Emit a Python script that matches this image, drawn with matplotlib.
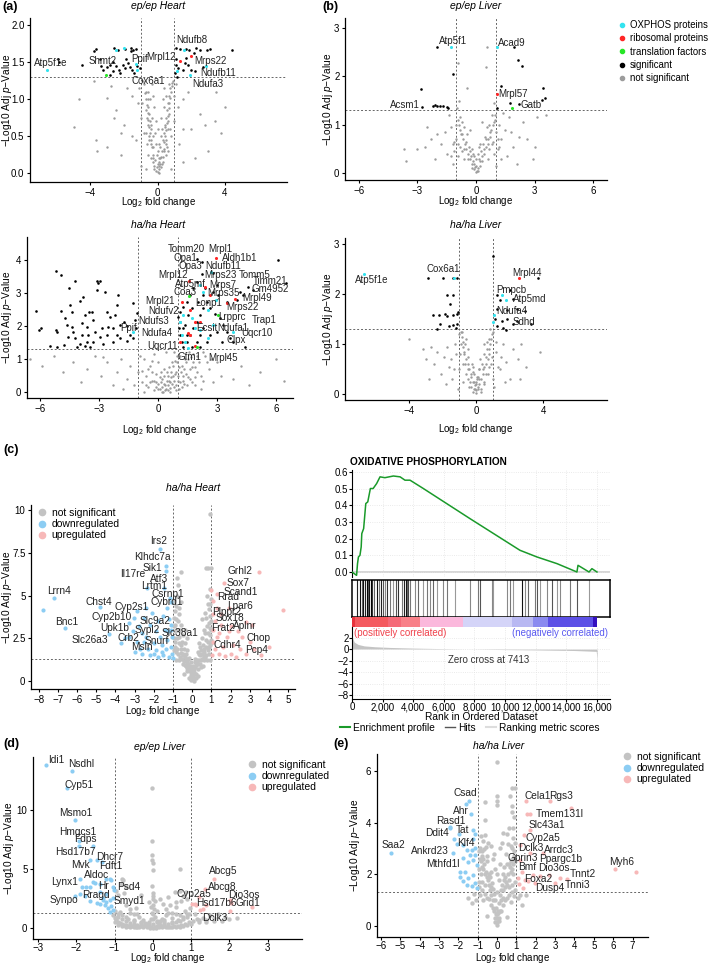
import numpy as np
import matplotlib
matplotlib.use("Agg")
import matplotlib.pyplot as plt
from matplotlib.lines import Line2D

plt.rcParams['font.family'] = ['Liberation Sans', 'DejaVu Sans']
plt.rcParams['mathtext.fontset'] = 'custom'
plt.rcParams['mathtext.rm'] = 'Liberation Sans'
plt.rcParams['mathtext.it'] = 'Liberation Sans:italic'

W, H = 709, 964

# ---------------- data: (a) ep/ep Heart ----------------
a1_gray = [(0, .02), (.1, .05), (-.1, .03), (.2, .08), (-.2, .1), (.05, .15), (.15, .2), (-.05, .25), (.25, .3),
           (-.25, .35), (.3, .45), (-.3, .5), (.4, .55), (-.4, .6), (.45, .65), (-.45, .7), (.5, .75), (-.5, .8),
           (.55, .85), (-.55, .9), (.6, .95), (-.6, 1.0), (.7, 1.05), (-.7, 1.1), (.75, 1.15), (-.8, 1.2), (.85, 1.22),
           (-.9, 1.25), (.9, 1.25), (.1, .1), (.3, .15), (-.3, .2), (.35, .3), (-.4, .4), (.6, .6), (-.6, .65), (.7, .8),
           (-.7, .85), (.2, .5), (-.15, .55), (.5, .4), (-.5, .45), (.8, .5), (-.8, .55), (1.0, .7), (-1.0, .75),
           (1.2, .9), (-1.2, .95), (1.5, 1.0), (-1.5, 1.05), (1.8, 1.1), (-1.8, 1.15), (1.3, .4), (-1.3, .45), (2.0, .6),
           (-2.0, .65), (2.5, .8), (-2.5, .85), (3.0, .3), (-3.0, .35), (3.8, .55), (-3.7, .45), (-5.0, .63), (-3.0, 1.02),
           (-2.6, .75), (2.2, .2), (-2.2, .25), (1.5, .15), (-1.0, .1), (.8, .05), (-.7, .05), (4.0, .9), (3.4, .7),
           (2.8, 1.2), (-3.6, .3), (-3.8, 1.25), (-4.7, 1.0), (.4, 1.15), (-.35, 1.2), (.95, 1.05), (-.95, .95),
           (1.1, 1.2), (-1.1, 1.15), (.6, .3), (-.6, .25), (1.5, .6), (-1.5, .5), (2.8, .65), (-2.2, .55), (3.5, 1.1),
           (-2.8, 1.18), (.2, .75), (-.2, .9), (.3, 1.0), (-.3, 1.05), (0, .3), (0, .6), (.1, .4), (-.1, .7)]
a1_gray_core = [(-.35, .35), (-.4, .45), (-.45, .55), (-.5, .62), (-.55, .72), (-.6, .82), (-.65, .92), (-.7, 1.0),
                (-.75, 1.08), (-.3, .25), (-.25, .15), (-.2, .05), (.25, .12), (.3, .22), (.35, .32), (.4, .42),
                (.45, .5), (.5, .58), (.55, .68), (.6, .78), (.65, .88), (.7, .95), (.75, 1.02), (.8, 1.1), (.85, 1.18),
                (.1, 0), (-.05, .08), (.05, .2), (.15, .12), (-.15, .18), (0, .12), (.2, .22), (-.42, .65), (-.52, .5),
                (.42, .62), (.52, .45), (.62, .7), (-.62, .75), (.35, .9), (-.45, 1.0), (.5, 1.05), (-.55, 1.1),
                (.65, 1.2), (.25, .6), (-.35, .75), (.15, .35), (-.1, .4), (.48, .25), (-.38, .2), (.72, .6),
                (-.72, .55), (.55, .35), (-.65, .4)]
a1_sig = [(-3.66, 1.68), (-3.80, 1.66), (-2.57, 1.70), (-2.37, 1.67), (-1.97, 1.68), (-1.57, 1.70), (-1.47, 1.67),
          (-1.31, 1.68), (-1.57, 1.65), (-4.50, 1.47), (-3.46, 1.54), (-3.36, 1.45), (-3.26, 1.39), (-3.02, 1.43),
          (-2.83, 1.47), (-2.63, 1.50), (-2.47, 1.45), (-2.31, 1.40), (-2.23, 1.35), (-2.07, 1.47), (-1.95, 1.42),
          (-1.87, 1.55), (-1.75, 1.49), (-1.67, 1.44), (-1.55, 1.39), (-1.43, 1.35), (-1.23, 1.45), (-1.03, 1.42),
          (-2.83, 1.33), (-2.67, 1.38), (-5.95, 1.55), (-5.89, 1.51), (1.11, 1.70), (1.35, 1.68), (1.67, 1.68),
          (1.87, 1.67), (2.31, 1.70), (2.51, 1.67), (2.95, 1.67), (3.14, 1.68), (4.40, 1.67), (2.15, 1.63),
          (1.71, 1.56), (1.63, 1.49), (1.81, 1.46), (2.01, 1.40), (2.21, 1.38), (1.11, 1.47), (1.21, 1.42),
          (1.03, 1.35), (1.15, 1.30), (1.51, 1.39), (2.71, 1.43), (1.07, 1.55)]
a1_ox = [(-6.59, 1.40), (-1.31, 1.48), (-1.23, 1.39), (-2.03, 1.69), (-2.47, 1.67), (1.57, 1.67), (2.87, 1.45),
         (1.91, 1.33), (1.17, 1.38)]
a1_ribo = [(1.31, 1.52), (2.0, 1.58)]
a1_trans = [(-3.1, 1.33)]
a1_labels = [("Atp5f1e", -6.35, 1.49), ("Shmt2", -3.26, 1.52), ("Ppif", -1.07, 1.55), ("Cox6a1", -0.58, 1.25),
             ("Mrpl12", 0.22, 1.57), ("Ndufb8", 2.01, 1.80), ("Mrps22", 3.14, 1.52), ("Ndufb11", 3.6, 1.36),
             ("Ndufa3", 3.0, 1.21)]

# ---------------- data: (a) ha/ha Heart ----------------
a2_gray = [(-6.5, 1.0), (-5.9, .8), (-5.3, 1.1), (-4.8, .6), (-4.3, .9), (-3.9, .3), (-3.6, .7), (-3.2, 1.1), (-2.9, .5),
           (-2.6, .9), (-2.3, .2), (-2.1, .6), (-1.9, 1.0), (-1.6, .4), (-1.4, .8), (-1.2, .2), (-1.0, .6), (-.9, 1.1),
           (-.8, .3), (-.6, .5), (-.5, .15), (-.4, .8), (-.3, .35), (-.2, .05), (-.1, .55), (0, .25), (.1, .1), (.2, .4),
           (.3, .7), (.35, .2), (.5, .05), (.5, .5), (.6, .3), (.7, .9), (.8, .15), (.9, .6), (1.0, .35), (1.1, 1.1),
           (1.2, .8), (1.3, .25), (1.4, .55), (1.5, 1.0), (1.6, .4), (1.7, .75), (1.8, 1.15), (1.9, .2), (2.0, .6),
           (2.1, .9), (2.3, .35), (2.4, 1.1), (2.6, .7), (2.8, .3), (3.0, .9), (3.2, .5), (3.5, 1.1), (3.8, .4),
           (4.2, .8), (4.6, .2), (5.2, .6), (6.0, 1.0), (6.4, .35), (0, .9), (-.2, 1.15), (.4, 1.2), (.8, 1.2), (.2, 0),
           (.6, 0), (-.1, .3), (.15, .6), (.45, .35), (.75, .5), (1.05, .1), (1.25, .5), (1.45, .2), (-.7, 0), (.95, .9),
           (2.2, .1), (-1.8, .1), (2.7, 1.0), (-2.8, 1.05)]
a2_gray_core = [(.2, .15), (.3, .25), (.4, .1), (.5, .2), (.6, .12), (.7, .25), (.8, .35), (.9, .2), (1.0, .5), (1.1, .3),
                (1.2, .15), (1.3, .7), (1.4, .9), (1.5, .45), (1.6, .7), (1.7, .3), (1.8, .9), (2.0, 1.1), (1.9, .45),
                (.1, .45), (0, .1), (-.1, .15), (-.2, .35), (-.3, .6), (-.4, .3), (-.5, .7), (-.6, .2), (-.7, 1.0),
                (.3, .5), (.45, .6), (.55, .75), (.65, .6), (.75, .8), (.85, .95), (.95, 1.1), (1.15, .6), (1.35, 1.0),
                (1.55, 1.2), (1.25, .35), (1.05, .75), (.35, .05), (.65, .45), (.15, .3), (.25, 0), (.55, .35),
                (.85, .55), (1.65, 1.05), (2.2, .5), (2.5, .9), (-.3, .95), (.9, .05), (-.8, .65), (2.3, 1.2), (1.9, .75)]
a2_sig = [(-6.19, 2.45), (-6.02, 1.88), (-5.94, 1.93), (-5.18, 3.67), (-4.92, 3.55), (-4.92, 2.45), (-5.18, 1.88),
          (-5.11, 1.81), (-5.48, 1.40), (-4.64, 2.03), (-4.52, 3.16), (-4.47, 2.64), (-4.38, 2.43), (-4.21, 3.36),
          (-3.96, 2.76), (-3.79, 2.89), (-3.87, 2.08), (-3.71, 2.33), (-3.62, 1.98), (-3.50, 2.43), (-3.37, 2.43),
          (-3.28, 2.18), (-3.11, 3.36), (-3.03, 3.32), (-2.94, 3.36), (-3.08, 3.09), (-2.69, 3.04), (-2.61, 2.43),
          (-2.44, 2.28), (-2.01, 2.94), (-2.10, 2.64), (-2.18, 2.33), (-2.27, 1.93), (-1.93, 2.03), (-1.73, 2.13),
          (-1.59, 2.01), (-1.25, 2.69), (-1.08, 2.41), (-1.17, 2.18), (-1.12, 1.93), (-1.25, 1.63), (-1.59, 1.55),
          (-1.93, 1.63), (-2.27, 1.53), (-2.61, 1.73), (-2.94, 1.68), (-3.28, 1.53), (-3.62, 1.53), (-3.96, 1.47),
          (-4.21, 1.63), (-4.30, 1.83), (-4.55, 1.68), (-4.77, 1.42), (-4.13, 1.37), (-3.45, 1.37), (-2.78, 1.47),
          (-2.10, 1.73), (-1.42, 1.73), (-3.87, 1.73), (-3.54, 1.73), (-3.20, 1.83), (-2.86, 1.93), (-2.52, 1.98),
          (-4.38, 1.98), (-4.72, 2.23), (-5.14, 1.37), (-3.71, 1.40),
          (1.96, 4.03), (2.22, 3.95), (2.81, 3.62), (2.25, 3.57), (6.11, 4.0), (6.50, 3.32), (4.59, 3.19), (4.84, 3.09),
          (4.16, 3.02), (4.33, 2.94), (3.99, 2.79), (3.49, 2.74), (3.06, 2.94), (2.81, 3.04), (2.39, 3.14), (1.96, 3.34),
          (1.79, 3.14), (1.62, 2.94), (1.46, 2.74), (1.29, 2.59), (1.12, 2.43), (1.03, 2.28), (1.12, 2.13), (1.08, 1.93),
          (1.12, 1.73), (1.20, 1.53), (1.29, 1.37), (1.46, 1.53), (1.62, 1.73), (1.79, 1.93), (1.96, 2.13), (2.13, 2.33),
          (2.30, 2.54), (2.47, 2.74), (2.64, 2.54), (2.89, 2.38), (3.15, 2.23), (3.32, 2.03), (3.49, 1.83), (3.65, 1.63),
          (3.82, 1.53), (4.42, 1.37), (2.47, 1.53), (2.64, 1.73), (2.30, 1.93), (2.13, 1.73), (1.96, 1.53), (1.71, 1.37),
          (2.13, 1.37), (1.37, 2.03), (1.54, 2.33), (1.71, 2.54), (2.05, 2.74), (2.30, 2.94), (2.98, 3.24), (3.23, 1.53),
          (2.98, 1.83), (1.46, 1.73), (1.25, 1.93)]
a2_ox = [(2.67, 3.65), (2.27, 3.04), (2.13, 3.26), (2.94, 2.79), (2.55, 2.48), (1.25, 2.35), (1.71, 2.23), (1.12, 2.13),
         (2.81, 2.03), (2.13, 1.88), (1.20, 1.73), (1.54, 1.34), (-1.25, 1.83), (3.82, 1.83), (2.55, 1.63),
         (1.88, 1.93), (1.37, 1.53)]
a2_ribo = [(2.94, 4.07), (1.59, 3.36), (2.39, 3.19), (2.64, 2.94), (3.91, 2.82), (1.20, 2.74), (3.49, 2.69),
           (1.62, 2.48), (1.88, 2.13), (1.12, 1.53), (1.54, 1.78), (1.88, 1.40), (2.13, 2.13), (1.62, 1.73)]
a2_trans = [(1.59, 2.92), (3.06, 2.33), (1.96, 1.37)]
a2_labels = [("Tomm20", 1.46, 4.33), ("Mrpl1", 3.18, 4.33), ("Opa1", 1.37, 4.07), ("Aldh1b1", 4.16, 4.05),
             ("Opa3", 1.62, 3.81), ("Ndufb11", 3.28, 3.81), ("Mrpl12", 0.78, 3.55), ("Mrps23", 3.18, 3.55),
             ("Tomm5", 4.92, 3.55), ("Timm21", 5.69, 3.36), ("Atp5mf", 1.62, 3.29), ("Mrps7", 3.27, 3.24),
             ("Gm4952", 5.69, 3.11), ("Coa3", 1.37, 3.04), ("Mrps35", 3.32, 2.99), ("Mrpl49", 5.01, 2.84),
             ("Mrpl21", 0.10, 2.76), ("Lonp1", 2.56, 2.69), ("Mrps22", 4.30, 2.59), ("Ndufv2", 0.27, 2.45),
             ("Lrpprc", 3.74, 2.26), ("Trap1", 5.38, 2.18), ("Ndufs3", -0.24, 2.15), ("Ppif", -1.51, 1.95),
             ("Ndufa1", 3.82, 1.95), ("Ecsit", 2.47, 1.93), ("Uqcr10", 5.01, 1.80), ("Ndufa4", -0.07, 1.78),
             ("Clpx", 3.99, 1.58), ("Uqcr11", 0.24, 1.40), ("Gfm1", 1.59, 1.07), ("Mrpl45", 3.28, 1.02)]

# ---------------- data: (b) ep/ep Liver ----------------
b1_gray = [(.54, 2.61), (.51, 2.2), (-.9, 2.27), (-.48, 1.75), (-.85, 1.49), (-.95, 1.35), (.9, 1.45), (.8, 1.2),
           (-.8, 1.15), (.95, 1.1), (-1.0, 1.0), (1.2, 1.0), (-1.3, .95), (1.5, .9), (-1.6, .85), (1.8, .85), (-2.0, .8),
           (2.2, .75), (-2.3, .7), (2.6, .7), (-2.6, .55), (3.0, .55), (-3.0, .5), (3.1, 1.15), (-3.7, .5), (-3.6, .25),
           (3.6, 1.2), (2.9, .3), (-1.5, .4), (1.6, .35), (-.7, .8), (.7, .85), (-.6, .5), (.6, .6), (-.4, .3), (.4, .4),
           (-.2, .1), (.2, .15), (0, .02), (.1, .05), (-.1, .2), (.3, .25), (-.3, .45), (.5, .7), (-.5, .65), (.65, 1.0),
           (-.7, 1.05), (.85, .65), (-.9, .6), (1.1, .5), (-1.1, .45), (1.3, .7), (-1.2, .2), (1.0, .15), (-2.1, .3),
           (2.1, .2), (-1.8, .6), (1.9, .55), (-.15, .4), (.15, .55), (0, .3), (-2.5, .95), (2.4, 1.05), (-1.4, 1.2),
           (1.4, 1.25), (-.3, .9), (.3, 1.05), (1.7, 1.15)]
b1_gray_core = [(-.1, .08), (.1, .1), (0, .15), (-.2, .2), (.2, .25), (-.3, .3), (.3, .35), (-.4, .4), (.4, .5), (-.5, .5),
                (.5, .55), (-.55, .6), (.6, .7), (-.65, .7), (.7, .75), (-.75, .8), (.75, .9), (-.8, .9), (.85, 1.0),
                (-.85, 1.0), (.9, 1.05), (-.9, 1.1), (.95, 1.2), (.55, .95), (-.6, .95), (.45, .75), (-.45, .8),
                (.35, .6), (-.35, .55), (.25, .45), (-.25, .35), (.15, .3), (-.15, .25), (.05, .05), (-.05, .12),
                (1.0, .85), (-1.0, .7), (1.1, .7), (-1.1, .65), (1.2, .55), (-1.2, .6), (.65, .5), (-.7, .45), (.8, .6),
                (-.8, .55), (.2, .6), (-.2, .5), (.6, .3), (-.6, .3), (.9, .4), (-.9, .35), (1.3, .3), (-1.3, .35),
                (.1, .4), (-.1, .35)]
b1_sig = [(-1.97, 2.61), (-1.16, 2.05), (1.94, 2.61), (2.13, 2.33), (2.36, 2.22), (-2.79, 1.73), (1.28, 1.80),
          (3.44, 1.75), (3.54, 1.56), (3.35, 1.50), (1.73, 1.44), (2.21, 1.42), (1.05, 1.34), (-2.18, 1.39),
          (-2.09, 1.40), (-2.01, 1.39), (-1.84, 1.39), (-1.67, 1.39), (-1.50, 1.37), (-1.41, 1.34), (-2.77, 1.37)]
b1_ox = [(-1.28, 2.60), (1.09, 2.60)]
b1_ribo = [(1.05, 1.63)]
b1_trans = [(1.82, 1.34)]
b1_labels = [("Atp5f1", -1.16, 2.73), ("Acad9", 1.82, 2.69), ("Mrpl57", 1.90, 1.63), ("Gatb", 2.84, 1.41),
             ("Acsm1", -3.62, 1.41)]

# ---------------- data: (b) ha/ha Liver ----------------
b2_gray = [(-3.98, 1.11), (-3.15, .9), (-3.0, .7), (-2.7, .95), (-2.5, .6), (-2.3, .85), (-2.1, .4), (-1.9, .75),
           (-1.7, .95), (-1.6, .55), (-1.4, .3), (-1.2, .8), (-1.0, 1.2), (-1.0, .5), (-.9, 1.0), (-.8, .25), (-.7, .8),
           (-.6, 1.1), (-.5, .5), (-.4, .15), (-.3, .35), (-.2, .05), (-.1, .25), (0, .02), (.1, .1), (.2, .3), (.3, .05),
           (.4, .5), (.5, .2), (.6, .75), (.7, .4), (.8, 1.1), (.9, .6), (1.0, 1.25), (1.0, .3), (1.2, .85), (1.4, .5),
           (1.6, 1.0), (1.8, .65), (2.0, .3), (2.2, .9), (2.5, .7), (2.7, 1.0), (3.0, .55), (3.8, .85), (-.85, 1.25),
           (.85, 1.3), (-.65, .6), (.65, .9), (-.45, .9), (.45, 1.0), (-.25, .6), (.25, .7), (-.15, .45), (.15, .5),
           (0, .2), (-.05, .1), (.05, .35), (-1.1, .1), (1.1, .15), (-1.8, .2), (1.7, .25), (-2.8, .3), (2.6, .3)]
b2_gray_core = [(-.1, .1), (.1, .15), (0, .25), (-.2, .25), (.2, .2), (-.3, .4), (.3, .3), (-.4, .5), (.4, .4), (-.5, .6),
                (.5, .55), (-.6, .7), (.6, .6), (-.7, .85), (.7, .7), (-.75, .95), (.75, .8), (-.8, 1.05), (.8, .9),
                (-.85, 1.15), (.85, 1.0), (-.9, 1.25), (.9, 1.1), (.95, 1.2), (-.5, .3), (.5, .25), (-.3, .15), (.3, .1),
                (-.6, .4), (.6, .4), (-.8, .6), (.8, .55), (-.95, .8), (.95, .75), (-.2, .55), (.2, .5), (.1, .35),
                (-.1, .4), (-.65, 1.0), (.65, 1.05), (-.45, .75), (.45, .8), (-1.3, .5), (1.3, .55), (-1.5, .7),
                (1.5, .75), (-.35, .25), (.35, .6), (0, .08), (-.05, .18), (.05, .3), (-1.25, 1.0), (1.2, 1.05)]
b2_sig = [(-2.85, 2.33), (-1.95, 2.33), (-1.35, 2.33), (-1.11, 2.33), (3.68, 2.33), (1.03, 2.77), (-1.71, 1.98),
          (-1.39, 1.98), (-1.55, 1.81), (-2.59, 1.59), (-2.19, 1.59), (-1.85, 1.61), (-1.71, 1.57), (-1.35, 1.58),
          (-1.15, 1.61), (-1.05, 1.65), (-2.15, 1.41), (-2.35, 1.30), (-1.59, 1.37), (-1.35, 1.38), (-1.19, 1.33),
          (-1.11, 1.41), (1.25, 1.98), (2.03, 2.09), (1.43, 1.88), (2.23, 1.91), (1.27, 1.71), (1.83, 1.68),
          (2.43, 1.71), (2.89, 1.66), (1.13, 1.51), (1.53, 1.46), (1.83, 1.51), (2.19, 1.41), (2.43, 1.46),
          (3.26, 1.41), (1.23, 1.37), (1.63, 1.33), (1.77, 1.29)]
b2_ox = [(-6.69, 2.40), (-1.29, 2.33), (1.57, 1.98), (1.77, 1.88), (1.09, 1.59), (1.03, 1.45)]
b2_ribo = [(2.57, 2.33)]
b2_labels = [("Atp5f1e", -6.2, 2.28), ("Cox6a1", -1.95, 2.51), ("Mrpl44", 3.06, 2.43), ("Pmpcb", 2.13, 2.08),
             ("Atp5md", 3.22, 1.89), ("Ndufa4", 2.13, 1.67), ("Sdhd", 2.83, 1.45)]

# ---------------- data: (c) ha/ha Heart DE ----------------
c_gray = [(0, .1), (.05, .3), (-.05, .5), (.1, .7), (-.1, .9), (.15, 1.1), (-.2, 1.3), (.2, .4), (-.15, .2), (.3, 1.0),
          (-.3, 1.2), (.4, 1.5), (-.4, 1.4), (.5, 1.3), (-.5, 1.6), (.6, 1.7), (-.6, 1.9), (.7, 2.0), (-.7, 2.2),
          (.8, 2.3), (-.8, 2.5), (.9, 2.7), (-.9, 2.9), (.95, 3.0), (-.95, 3.2), (.85, 3.4), (-.85, 3.6), (.9, 3.8),
          (-.9, 4.1), (.8, 4.5), (-.7, 4.3), (.95, 4.8), (-.8, 5.0), (.9, 5.4), (-.6, 6.4), (.8, 6.6), (.95, 6.6),
          (.7, 6.6), (-.8, 6.0), (.9, 9.8), (.6, 3.0), (-.6, 3.3), (.5, 2.5), (-.5, 2.7), (.4, 2.0), (-.4, 2.2),
          (.3, 1.7), (-.3, 1.8), (.65, 4.0), (-.6, 4.6), (.75, 5.0), (-.75, 5.6), (.5, 3.6), (-.4, 3.0), (.2, .15),
          (-.25, .6), (.3, .3), (-.35, .9), (.45, .8), (-.5, 1.0), (.6, 1.2), (-.7, 1.25), (.75, 1.2), (-.85, 1.25),
          (.9, 1.25), (.1, 0), (-.05, .05), (.85, 2.0), (-.9, 2.3), (.95, 2.4), (-.95, 1.8), (.7, 1.5), (-.75, 1.6),
          (.55, .9), (-.45, .4), (.25, 1.2), (-.2, .8), (.35, 2.2), (-.3, 2.5)]
c_gray_core = [(0, .25), (.05, .4), (-.05, .35), (.1, .55), (-.1, .6), (.15, .8), (-.15, .75), (.2, .95), (-.2, 1.0),
               (.25, 1.15), (-.25, 1.1), (.35, 1.25), (-.35, 1.3), (.45, 1.2), (-.45, 1.15), (.55, 1.3), (-.55, 1.3),
               (.65, 1.4), (-.65, 1.4), (.1, .2), (-.1, .15), (0, .5), (0, .7), (.05, .9), (-.05, 1.1), (.15, 1.3),
               (-.15, 1.35), (.3, .7), (-.3, .75), (.4, 1.0), (-.4, .95), (.5, 1.55), (-.5, 1.5), (.6, 1.9), (-.6, 2.1),
               (.7, 2.4), (-.7, 2.6), (.8, 2.8), (-.8, 3.0), (.85, 1.6), (-.85, 1.7), (.9, 2.1), (-.9, 2.0), (.95, 3.5),
               (-.95, 3.7), (.75, 3.2), (-.75, 3.5), (.65, 2.8), (-.65, 3.0), (.55, 2.1), (-.55, 2.3), (.45, 1.8),
               (-.45, 1.9), (.8, 1.8), (-.8, 1.9), (.9, 3.1), (-.9, 3.3), (.7, 3.7), (-.7, 3.9), (.85, 4.2), (-.85, 4.4),
               (.92, 4.5), (-.95, 4.7), (.6, 1.45), (-.6, 1.65), (.35, 1.55), (-.35, 1.6), (.95, 2.2), (-.95, 2.5)]
c_down = [(-7.76, 4.15), (-7.21, 4.83), (-6.64, 3.12), (-4.82, 4.31), (-4.35, 2.73), (-3.71, 2.20), (-3.05, 3.66),
          (-1.70, 7.72), (-1.37, 6.74), (-1.37, 6.45), (-1.46, 5.42), (-2.36, 5.42), (-1.18, 4.83), (-2.1, 4.0),
          (-2.5, 3.7), (-2.8, 3.2), (-3.3, 2.6), (-3.1, 2.95), (-2.6, 2.8), (-2.2, 3.3), (-1.8, 3.5), (-1.5, 3.8),
          (-1.3, 4.3), (-1.2, 3.6), (-1.1, 3.0), (-1.4, 3.0), (-1.7, 2.6), (-2.0, 2.2), (-2.3, 1.9), (-2.6, 1.6),
          (-2.2, 1.5), (-1.9, 1.8), (-1.6, 2.1), (-1.3, 2.4), (-1.1, 2.0), (-1.05, 1.6), (-1.5, 1.5), (-1.8, 1.4),
          (-1.2, 1.4), (-2.9, 2.3), (-3.5, 2.5), (-1.9, 2.9), (-2.5, 2.3), (-1.6, 1.7), (-1.05, 2.6), (-1.1, 3.3),
          (-1.25, 2.9), (-1.35, 1.9), (-2.7, 1.9), (-3.0, 1.7), (-2.9, 4.1), (-2.4, 4.3), (-3.3, 3.4), (-1.1, 4.6),
          (-1.0, 1.35), (-2.0, 1.6), (-2.4, 2.6)]
c_up = [(3.50, 6.39), (1.66, 5.71), (1.28, 5.09), (1.1, 4.7), (1.3, 4.3), (1.9, 4.3), (1.1, 3.9), (1.2, 3.5),
        (1.5, 3.3), (2.0, 3.2), (2.8, 3.45), (3.1, 3.3), (1.4, 2.8), (1.8, 2.6), (2.6, 2.6), (3.0, 2.3), (2.1, 2.1),
        (2.5, 1.9), (2.8, 1.6), (3.2, 1.85), (1.1, 2.3), (1.2, 1.9), (1.05, 1.5), (1.4, 1.6), (1.7, 1.45),
        (2.0, 1.55), (2.3, 1.4), (3.6, 1.5), (4.71, 4.15), (1.6, 2.0), (1.3, 2.6), (1.1, 3.0), (1.9, 2.9),
        (2.4, 2.9), (1.5, 3.9), (1.0, 5.3), (4.0, 2.0)]
c_labels = [("Irs2", -1.75, 8.19), ("Klhdc7a", -2.1, 7.27), ("Sik1", -2.1, 6.63), ("Atf3", -1.72, 5.96),
            ("Il17re", -3.08, 6.24), ("Lrtm1", -1.98, 5.56), ("Lrrn4", -6.95, 5.26), ("Chst4", -4.87, 4.64),
            ("Csrnp1", -1.28, 5.09), ("Cyp2s1", -3.17, 4.35), ("Cybrd1", -1.35, 4.60), ("Cyp2b10", -4.21, 3.76),
            ("Bnc1", -6.55, 3.47), ("Slc9a2", -1.96, 3.51), ("Upk1b", -4.06, 3.12), ("Sypl2", -2.36, 2.98),
            ("Slc38a1", -0.66, 2.83), ("Slc26a3", -5.34, 2.40), ("Crb2", -3.31, 2.49), ("Snurf", -1.84, 2.34),
            ("Msln", -2.62, 2.01), ("Grhl2", 2.46, 6.43), ("Sox7", 2.41, 5.71), ("Scand1", 2.50, 5.22),
            ("Rrad", 1.85, 4.89), ("Lpar6", 2.46, 4.41), ("Plppr2", 1.77, 4.02), ("Sox18", 1.98, 3.66),
            ("Frat2", 1.58, 3.08), ("Aplnr", 2.76, 3.24), ("Chop", 3.45, 2.53), ("Cdhr4", 1.85, 2.11),
            ("Pcp4", 3.36, 1.81)]

# ---------------- data: (c) GSEA OXPHOS ----------------
es_rank = [0, 300, 360, 420, 520, 600, 640, 760, 900, 1030, 1200, 1380, 1610, 1830, 2150, 2700, 3140, 3460, 3790,
           4660, 7700, 10970, 12080, 13390, 14690, 14760, 15480, 15670, 16000]
es_score = [0.0, -0.02, 0.05, 0.09, 0.10, 0.15, 0.23, 0.26, 0.41, 0.42, 0.50, 0.50, 0.53, 0.57, 0.565, 0.575, 0.57,
            0.55, 0.55, 0.50, 0.32, 0.13, 0.09, 0.05, 0.0, 0.04, 0.0, 0.02, 0.0]
hit_ranks = [305, 493, 630, 740, 850, 960, 1070, 1130, 1220, 1330, 1460, 1610, 1785, 1870, 2000, 2150, 2260, 2480,
             2700, 2870, 3030, 3240, 3400, 3530, 3620, 3680, 3790, 4110, 4330, 4660, 4880, 5100, 5310, 5530, 5960,
             6230, 6720, 7700, 8250, 8360, 9120, 9230, 10100, 10320, 10540, 11080, 11300, 11520, 11950, 12060,
             12280, 12710, 13040, 13370, 13580, 14240, 14670, 15500]
hit_shade = ['#222', '#111', '#666', '#111', '#222', '#000', '#555', '#111', '#000', '#333', '#666', '#111', '#777',
             '#222', '#555', '#888', '#333', '#777', '#999', '#555', '#333', '#777', '#222', '#111', '#666', '#444',
             '#777', '#888', '#666', '#999', '#777', '#888', '#666', '#999', '#888', '#777', '#999', '#888', '#777',
             '#555', '#888', '#999', '#888', '#777', '#999', '#111', '#888', '#666', '#777', '#555', '#999', '#888',
             '#555', '#999', '#888', '#777', '#555', '#999']
bar_bounds = [0, 196, 2370, 3200, 4440, 7230, 10420, 11800, 12770, 15720, 15980]
bar_colors = ['#e8323c', '#f45a5f', '#f56a78', '#f88088', '#fbb8dc', '#d4d4f8', '#b8b8f2', '#8a8af0', '#5c50e6',
              '#3410c0']
metric_rank = [0, 50, 150, 400, 800, 1500, 2500, 4000, 6000, 7413, 9000, 12000, 14500, 15950, 16000, 16010, 16020]
metric_score = [2.6, 1.8, 1.2, 0.8, 0.55, 0.4, 0.28, 0.17, 0.07, 0.0, -0.06, -0.15, -0.25, -0.4, -1.5, -5.0, -8.0]

# ---------------- data: (d) ep/ep Liver DE ----------------
d_gray = [(-.03, 11.87), (-.01, 7.38), (-.01, 6.23), (-.01, 5.81), (0, 5.54), (0, 4.93), (-.01, 3.61), (.70, 5.04),
          (.86, 3.06), (.59, 3.06), (-.77, 4.10), (-.82, 3.75), (-.69, 3.47), (-.95, 3.2), (.4, 2.64), (.27, 2.09),
          (0, 3.0), (0, 2.5), (0, 2.0), (.02, 1.6), (-.02, 1.3), (.05, 1.0), (-.05, .8), (.1, .6), (-.1, .5), (.15, .4),
          (-.15, .35), (.2, .3), (-.2, .25), (.3, .2), (-.3, .2), (.4, .15), (-.4, .15), (.5, .1), (-.5, .1), (.6, .1),
          (-.6, .1), (.7, .15), (-.7, .15), (.8, .2), (-.8, .2), (.9, .3), (-.9, .3), (.25, .8), (-.25, .7), (.35, 1.1),
          (-.35, 1.0), (.5, 1.3), (-.5, 1.2), (.6, 1.8), (-.6, 1.6), (.75, 2.3), (-.7, 2.0), (.85, 1.5), (-.85, 1.4),
          (.95, 1.2), (-.95, .9), (.9, 2.5), (-.9, 2.8), (.5, .5), (-.5, .6), (0, 0), (.05, .1), (-.05, .15), (0, .4),
          (.1, 1.5), (-.1, 2.2), (.2, 2.5), (-.3, 2.8), (.45, 2.0), (-.8, 4.2), (.7, 3.2), (-.75, 3.0), (.3, .5),
          (-.3, .45), (.65, .7), (-.65, .8), (.8, 1.0), (-.8, 1.1), (1.0, .4), (-1.0, .5), (1.2, .7), (1.4, .5),
          (1.6, .9), (1.8, .6), (2.0, .8), (.98, 1.7), (-.98, 1.5)]
d_gray_core = [(-1.0, .9), (-.95, .7), (-.9, .55), (-.85, .45), (-.8, .35), (-.75, .3), (-.7, .25), (-.65, .22),
               (-.6, .2), (-.55, .18), (-.45, .15), (-.35, .12), (-.25, .1), (-.15, .08), (-.08, .05), (.08, .05),
               (.15, .08), (.25, .1), (.35, .12), (.45, .15), (.55, .18), (.65, .22), (.75, .3), (.85, .4), (.95, .5),
               (1.05, .6), (1.15, .8), (1.3, .9), (1.5, 1.1), (1.7, 1.2), (-.9, 1.0), (-.8, .8), (-.7, .6), (-.6, .45),
               (-.5, .35), (-.4, .3), (-.3, .28), (-.2, .25), (-.1, .22), (.1, .2), (.2, .3), (.3, .35), (.4, .4),
               (.5, .45), (.6, .55), (.7, .65), (.8, .8), (.9, 1.0), (-.9, 1.2), (-.7, 1.0), (-.5, .75), (-.3, .55),
               (-.2, .45), (-.1, .4), (.1, .5), (.2, .6), (.3, .75), (.5, .9), (.7, 1.1), (.9, 1.25), (0, .8), (0, 1.2),
               (-.05, 1.8), (.05, 2.3), (0, 2.7), (-.4, 1.2), (.4, 1.3), (-.6, 1.3), (.6, 1.25), (1.1, 1.25), (1.2, .5),
               (1.4, .7), (1.6, .6), (-1.05, 1.1), (1.9, 1.0), (2.2, .9), (.35, 1.6), (-.45, 1.7), (.6, 2.2), (.8, 2.7)]
d_down = [(-2.79, 13.80), (-2.10, 13.33), (-2.25, 11.87), (-2.03, 9.20), (-1.93, 7.41), (-1.93, 6.97), (-1.56, 6.97),
          (-1.64, 5.81), (-1.47, 5.76), (-1.32, 5.62), (-1.12, 4.16), (-1.56, 3.94), (-1.86, 3.47), (-1.38, 3.06),
          (-1.01, 3.28), (-1.64, 2.29), (-2.03, 2.78), (-1.90, 4.21), (-1.75, 3.47), (-1.64, 3.53), (-1.51, 3.88),
          (-1.38, 3.75), (-1.23, 4.16), (-1.08, 4.10), (-1.03, 3.47), (-1.21, 2.87), (-1.30, 2.42), (-1.47, 2.15),
          (-1.38, 2.09), (-1.25, 1.96), (-1.17, 1.76), (-1.08, 1.87), (-1.03, 1.54), (-1.12, 1.40), (-1.23, 2.23),
          (-1.12, 2.42), (-1.03, 2.59), (-1.90, 2.87), (-1.77, 2.73), (-1.30, 2.59)]
d_up = [(1.60, 4.21), (1.37, 3.33), (1.21, 2.64), (2.03, 2.42), (1.10, 2.04), (2.60, 1.82), (2.01, 1.46),
        (1.03, 2.04), (1.14, 1.96), (1.23, 1.54), (1.31, 1.60), (1.40, 1.96), (2.05, 2.15)]
d_labels = [("Idi1", -2.53, 14.27), ("Nsdhl", -1.86, 13.94), ("Cyp51", -1.92, 12.15), ("Msmo1", -2.01, 9.75),
            ("Hmgcs1", -1.97, 8.15), ("Fdps", -1.75, 7.55), ("Hsd17b7", -2.03, 6.42), ("Dhcr7", -1.12, 6.0),
            ("Mvk", -1.88, 5.40), ("Fdft1", -1.10, 5.26), ("Aldoc", -1.47, 4.49), ("Lynx1", -2.30, 3.94),
            ("Hr", -1.30, 3.55), ("Psd4", -0.64, 3.47), ("Rragd", -1.49, 2.84), ("Synpo", -2.32, 2.42),
            ("Smyd1", -0.62, 2.31), ("Abcg5", 1.85, 4.85), ("Abcg8", 1.82, 3.47), ("Cyp2a5", 1.07, 2.87),
            ("Dio3os", 2.38, 2.84), ("Hsd17b6", 1.66, 2.15), ("Grid1", 2.49, 2.18), ("Dclk3", 1.62, 0.85)]

# ---------------- data: (e) ha/ha Liver DE ----------------
e_gray = [(-.02, 6.35), (.76, 5.34), (.93, 5.34), (.67, 5.03), (.02, 5.03), (-.62, 4.81), (0, 4.84), (.02, 4.67),
          (.76, 4.39), (.76, 4.65), (-.62, 3.51), (-.57, 3.06), (-.67, 2.97), (.5, 3.57), (.58, 3.19), (.85, 3.8),
          (.8, 3.0), (-.8, 2.9), (-.9, 2.6), (.9, 2.7), (-.5, 2.5), (.6, 2.4), (-.7, 2.2), (.7, 2.1), (-.85, 2.0),
          (.85, 2.0), (-.4, 2.0), (.4, 1.9), (-.95, 1.7), (.95, 1.7), (-.6, 1.6), (.6, 1.5), (-.3, 1.5), (.3, 1.4),
          (-.8, 1.4), (.8, 1.3), (-.2, 1.0), (.2, 1.0), (-.5, 1.1), (.5, 1.1), (-.15, .6), (.15, .6), (-.3, .8),
          (.3, .8), (-.1, .3), (.1, .3), (0, .05), (0, .15), (-.05, .45), (.05, .5), (-.7, 1.0), (.7, .95), (-.9, 1.2),
          (.9, 1.15), (-.35, 1.9), (.35, 2.3), (-.2, 2.6), (.15, 3.0), (-.1, 2.2), (.1, 1.8), (-.45, 3.2), (.45, 2.8),
          (.3, 3.6), (-.3, 3.1), (1.1, 1.1), (-1.1, 1.0), (1.3, .8), (-1.3, .9), (1.5, 1.2), (-1.5, 1.1), (0, 1.3),
          (0, 2.0), (-.5, .4), (.5, .35), (-.95, 2.9), (.95, 3.2), (.9, 4.2)]
e_gray_core = [(0, .3), (.05, .6), (-.05, .7), (.1, .9), (-.1, 1.0), (.15, 1.2), (-.15, 1.25), (.2, 1.4), (-.2, 1.45),
               (.25, 1.6), (-.25, 1.65), (.3, 1.1), (-.3, 1.2), (.35, 1.8), (-.35, 1.4), (.4, 1.5), (-.4, 1.6),
               (.45, 1.7), (-.45, 1.8), (.5, 1.6), (-.5, 1.9), (.55, 2.0), (-.55, 2.1), (.6, 1.8), (-.6, 2.0),
               (.65, 2.3), (-.65, 2.4), (.7, 2.5), (-.7, 2.6), (.75, 2.2), (-.75, 2.3), (.8, 2.6), (-.8, 2.7),
               (.85, 2.4), (-.85, 2.5), (.9, 2.9), (-.9, 3.0), (.95, 2.5), (-.95, 2.2), (.2, .6), (-.2, .7), (.1, .2),
               (-.1, .15), (0, .45), (.4, 1.0), (-.4, 1.05), (.6, 1.2), (-.6, 1.25), (.8, 1.6), (-.8, 1.7), (.3, 2.0),
               (-.3, 2.1), (.5, 2.4), (-.5, 2.7), (.7, 3.1), (-.7, 3.3), (.85, 3.4), (-.85, 3.5), (.95, 1.4),
               (-.95, 1.5), (1.2, 1.2), (-1.2, 1.25), (.15, 2.4), (-.15, 2.8), (.25, 3.2), (.6, 3.8), (-.6, 4.1)]
e_down = [(-1.43, 4.84), (-1.36, 4.33), (-2.42, 3.82), (-1.22, 3.70), (-2.42, 3.78), (-5.48, 2.81), (-2.25, 2.81),
          (-1.60, 4.71), (-2.22, 3.38), (-2.08, 3.19), (-1.94, 3.57), (-1.74, 3.13), (-1.56, 2.94), (-1.31, 2.94),
          (-1.13, 3.0), (-1.22, 3.38), (-1.13, 3.57), (-1.39, 2.75), (-1.74, 2.62), (-1.22, 2.56), (-1.65, 2.11),
          (-1.91, 1.89), (-1.74, 1.73), (-1.48, 1.86), (-1.22, 1.99), (-1.13, 1.67), (-1.31, 1.54), (-1.05, 1.48),
          (-1.56, 1.58), (-1.91, 2.11), (-1.05, 2.37), (-1.13, 2.75), (-1.48, 2.47)]
e_up = [(1.48, 4.84), (2.73, 4.84), (1.53, 4.33), (1.70, 4.33), (3.80, 4.56), (1.70, 3.73), (1.39, 3.51),
        (1.70, 2.81), (2.35, 2.81), (1.19, 2.56), (6.08, 2.2), (7.16, 2.11), (2.68, 1.99), (3.59, 1.84), (2.99, 1.67),
        (1.19, 3.13), (1.27, 2.11), (1.10, 1.86), (1.44, 1.80), (1.15, 1.61), (1.36, 1.48), (1.62, 1.73),
        (1.96, 1.67), (1.87, 1.99), (2.22, 1.92), (3.25, 1.86)]
e_labels = [("Csad", -1.65, 5.13), ("Ahr", -1.87, 4.46), ("Rasd1", -2.39, 4.08), ("Tat", -1.77, 3.70),
            ("Ddit4", -3.08, 3.59), ("Klf4", -1.60, 3.22), ("Saa2", -5.34, 3.15), ("Ankrd23", -3.45, 2.90),
            ("Mthfd1l", -2.80, 2.39), ("Cela1", 2.10, 5.03), ("Rgs3", 3.30, 5.03), ("Tmem131l", 3.25, 4.33),
            ("Slc43a1", 2.59, 3.92), ("Cyp2a5", 2.39, 3.42), ("Dclk3", 1.74, 3.0), ("Arrdc3", 3.20, 2.96),
            ("Gprin3", 1.32, 2.62), ("Ppargc1b", 3.28, 2.58), ("Myh6", 6.43, 2.49), ("Bmf", 1.56, 2.27),
            ("Dio3os", 2.96, 2.24), ("Tnnt2", 4.42, 2.01), ("Foxa2", 2.13, 1.82), ("Dusp4", 2.73, 1.48),
            ("Tnni3", 4.16, 1.58)]

# ---------------- styles ----------------
GRAY_AB = '#9c9c9c'
OX_C, RIBO_C, TRANS_C = '#33e3ef', '#ff2626', '#26e626'
GRAY_DE, DOWN_C, UP_C = '#c3c3c3', '#8ccdf3', '#f7b8b8'

fig = plt.figure(figsize=(W / 100, H / 100), dpi=100)


def px_axes(l, t, r, b):
    return fig.add_axes([l / W, 1 - b / H, (r - l) / W, (b - t) / H])


def ftext(x, y, s, **kw):
    fig.text(x / W, 1 - y / H, s, **kw)


def xy(lst):
    a = np.array(lst, dtype=float)
    return a[:, 0], a[:, 1]


def frame(ax, xlim, ylim, xt, yt, ytl, ylab_x, xlab_y, thr=1.3, xpad=1.5):
    ax.set_xlim(*xlim)
    ax.set_ylim(*ylim)
    ax.spines['top'].set_visible(False)
    ax.spines['right'].set_visible(False)
    for s in ('left', 'bottom'):
        ax.spines[s].set_linewidth(0.9)
    ax.set_xticks(xt)
    ax.set_yticks(yt)
    if ytl is not None:
        ax.set_yticklabels(ytl)
    ax.tick_params(labelsize=7, length=2.5, width=0.8, pad=1.5)
    ax.tick_params(axis='x', pad=xpad)
    for v in (-1, 1):
        ax.axvline(v, color='#666', lw=0.7, ls=(0, (2, 2)), zorder=0.5)
    ax.axhline(thr, color='#666', lw=0.7, ls=(0, (2, 2)), zorder=0.5)
    pos = ax.get_position()
    xc = (pos.x0 + pos.x1) / 2 * W
    yc = (1 - (pos.y0 + pos.y1) / 2) * H
    ftext(xc, xlab_y, 'Log$_2$ fold change', fontsize=7, ha='center', va='center')
    ftext(ylab_x, yc, '$-$Log10 Adj $p$$-$Value', fontsize=7.3, ha='center', va='center', rotation=90)


def put_labels(ax, labels, fs=7):
    for name, tx, ty in labels:
        ax.text(tx, ty, name, ha='center', va='center', fontsize=fs, color='#222', zorder=5)


def proteomics(ax, gray, core, sig, ox, ribo, trans, labels):
    ax.scatter(*xy(gray + core), s=3, c=GRAY_AB, lw=0, zorder=2)
    ax.scatter(*xy(sig), s=3.5, c='black', lw=0, zorder=3)
    ax.scatter(*xy(ox), s=5, c=OX_C, lw=0, zorder=4)
    ax.scatter(*xy(ribo), s=5, c=RIBO_C, lw=0, zorder=4)
    if trans:
        ax.scatter(*xy(trans), s=5, c=TRANS_C, lw=0, zorder=4)
    put_labels(ax, labels)


def transcript(ax, gray, core, down, up, labels):
    ax.scatter(*xy(gray + core), s=10, c=GRAY_DE, lw=0, zorder=2)
    ax.scatter(*xy(down), s=9, c=DOWN_C, lw=0, zorder=3)
    ax.scatter(*xy(up), s=9, c=UP_C, lw=0, zorder=3)
    put_labels(ax, labels, fs=7.3)


def de_legend(ax, x, y):
    hs = [Line2D([], [], marker='o', ls='', color=c, ms=4.5) for c in (GRAY_DE, DOWN_C, UP_C)]
    ax.legend(hs, ['not significant', 'downregulated', 'upregulated'], loc='upper left',
              bbox_to_anchor=(x / W, 1 - y / H), bbox_transform=fig.transFigure, frameon=False,
              fontsize=7.5, handlelength=0.8, handletextpad=0.5, labelspacing=0.12, borderpad=0,
              borderaxespad=0)


# ---- (a) ----
ax = px_axes(30, 18, 287, 182)
proteomics(ax, a1_gray, a1_gray_core, a1_sig, a1_ox, a1_ribo, a1_trans, a1_labels)
frame(ax, (-7.6, 7.7), (-0.12, 2.1), [-4, 0, 4], [0, 0.5, 1, 1.5, 2], ['0.0', '0.5', '1.0', '1.5', '2.0'], 7, 202)
ftext(158, 6, 'ep/ep Heart', style='italic', fontsize=7.5, ha='center', va='center')

ax = px_axes(27, 237, 293, 398)
proteomics(ax, a2_gray, a2_gray_core, a2_sig, a2_ox, a2_ribo, a2_trans, a2_labels)
frame(ax, (-6.65, 6.85), (-0.18, 4.7), [-6, -3, 0, 3, 6], [0, 1, 2, 3, 4], None, 7, 430)
ftext(158, 225, 'ha/ha Heart', style='italic', fontsize=7.5, ha='center', va='center')

# ---- (b) ----
ax = px_axes(345, 18, 607, 180)
proteomics(ax, b1_gray, b1_gray_core, b1_sig, b1_ox, b1_ribo, b1_trans, b1_labels)
frame(ax, (-6.7, 6.7), (-0.14, 3.2), [-6, -3, 0, 3, 6], [0, 1, 2, 3], None, 328, 201)
ftext(476, 6, 'ep/ep Liver', style='italic', fontsize=7.5, ha='center', va='center')
leg_h = [Line2D([], [], marker='o', ls='', color=c, ms=3) for c in (OX_C, RIBO_C, TRANS_C, 'black', GRAY_AB)]
ax.legend(leg_h, ['OXPHOS proteins', 'ribosomal proteins', 'translation factors', 'significant', 'not significant'],
          loc='upper left', bbox_to_anchor=(618 / W, 1 - 20 / H), bbox_transform=fig.transFigure, frameon=False,
          fontsize=6.9, handlelength=0.8, handletextpad=0.4, labelspacing=0.35, borderpad=0, borderaxespad=0)

ax = px_axes(345, 238, 607, 400)
proteomics(ax, b2_gray, b2_gray_core, b2_sig, b2_ox, b2_ribo, [], b2_labels)
frame(ax, (-7.8, 7.8), (-0.12, 3.12), [-4, 0, 4], [0, 1, 2, 3], None, 328, 429)
ftext(476, 225, 'ha/ha Liver', style='italic', fontsize=7.5, ha='center', va='center')

# ---- (c) volcano ----
ax = px_axes(31, 505, 295, 689)
transcript(ax, c_gray, c_gray_core, c_down, c_up, c_labels)
frame(ax, (-8.4, 5.35), (-0.47, 10.3), list(range(-8, 6)), [0, 2.5, 5, 7.5, 10], ['0', '2.5', '5', '7.5', '10'],
      7, 711)
ftext(193, 488, 'ha/ha Heart', style='italic', fontsize=7.5, ha='center', va='center')
de_legend(ax, 38, 508)

# ---- (c) GSEA ----
xmax = 16850
g1 = px_axes(352, 470, 610, 577)
g1.plot(es_rank, es_score, color='#1a9a2a', lw=1.1, zorder=3)
g1.axhline(0, color='#cfcfcf', lw=1.2, zorder=1)
g1.set_xlim(0, xmax)
g1.set_ylim(-0.03, 0.611)
g1.set_yticks([0, .1, .2, .3, .4, .5, .6])
g1.set_yticklabels(['0.0', '0.1', '0.2', '0.3', '0.4', '0.5', '0.6'])
g1.set_xticks(range(0, 16001, 2000))
g1.tick_params(axis='x', length=0, labelbottom=False)
g1.tick_params(axis='y', labelsize=7, length=2, pad=1)
g1.grid(color='#e3e3e3', lw=0.6, ls=':')
for s in ('top', 'right', 'bottom'):
    g1.spines[s].set_visible(False)
g1.spines['left'].set_linewidth(0.8)
ftext(350, 462, 'OXIDATIVE PHOSPHORYLATION', fontsize=7.3, fontweight='bold', ha='left', va='center')

g2 = px_axes(352, 580, 610, 617)
for r, c in zip(hit_ranks, hit_shade):
    g2.axvline(r, color=c, lw=0.8)
g2.set_xlim(0, xmax)
g2.set_ylim(0, 1)
g2.set_xticks([])
g2.set_yticks([])
for s in g2.spines.values():
    s.set_linewidth(1.1)

g3 = px_axes(352, 617, 610, 627)
for i, c in enumerate(bar_colors):
    g3.axvspan(bar_bounds[i], bar_bounds[i + 1], color=c, lw=0)
g3.set_xlim(0, xmax)
g3.set_ylim(0, 1)
g3.axis('off')
ftext(354, 633, '(positively correlated)', fontsize=7, color='#f0404a', ha='left', va='center')
ftext(608, 633, '(negatively correlated)', fontsize=7, color='#5a5af0', ha='right', va='center')

g4 = px_axes(352, 627, 610, 699)
g4.fill_between(metric_rank, 0, metric_score, color='#c4c4c4', lw=0)
g4.set_xlim(0, xmax)
g4.set_ylim(-8.67, 3.83)
g4.set_yticks([2, 0, -2, -4, -6, -8])
g4.set_xticks(range(0, 16001, 2000))
g4.set_xticklabels(['0'] + [f'{v:,}' for v in range(2000, 16001, 2000)])
g4.tick_params(labelsize=7, length=2, pad=0.5)
g4.grid(color='#e3e3e3', lw=0.6, ls=':')
for s in ('top', 'right'):
    g4.spines[s].set_visible(False)
g4.text(7413 + 1500, -1.9, 'Zero cross at 7413', fontsize=7, ha='center', va='center', color='#333')
ftext(481, 717, 'Rank in Ordered Dataset', fontsize=7.3, ha='center', va='center')
gh = [Line2D([], [], color='#1a9a2a', lw=1.5), Line2D([], [], color='#555', lw=1),
      Line2D([], [], color='#dddddd', lw=1.5)]
fig.legend(gh, ['Enrichment profile', 'Hits', 'Ranking metric scores'], loc='center',
           bbox_to_anchor=(470 / W, 1 - 728 / H), ncol=3, frameon=False, fontsize=7.3,
           handlelength=1.0, handletextpad=0.3, columnspacing=1.0, borderpad=0)

# ---- (d) ----
ax = px_axes(33, 757, 302, 939)
transcript(ax, d_gray, d_gray_core, d_down, d_up, d_labels)
frame(ax, (-3.13, 3.9), (-0.9, 14.5), [-3, -2, -1, 0, 1, 2, 3], [0, 5, 10], None, 9, 958, xpad=0.5)
ftext(160, 747, 'ep/ep Liver', style='italic', fontsize=7.5, ha='center', va='center')
de_legend(ax, 248, 760)

# ---- (e) ----
ax = px_axes(377, 754, 648, 937)
transcript(ax, e_gray, e_gray_core, e_down, e_up, e_labels)
frame(ax, (-6.2, 7.8), (-0.42, 6.65), list(range(-6, 8)), [0, 2, 4, 6], None, 355, 958, xpad=0.5)
ftext(499, 746, 'ha/ha Liver', style='italic', fontsize=7.5, ha='center', va='center')
de_legend(ax, 623, 752)

# panel letters
for lab, x, y in [('(a)', 2, 7), ('(b)', 322, 7), ('(c)', 3, 450), ('(d)', 3, 744), ('(e)', 333, 744)]:
    ftext(x, y, lab, fontsize=9, fontweight='bold', ha='left', va='center')

fig.savefig('out.png', dpi=100)
